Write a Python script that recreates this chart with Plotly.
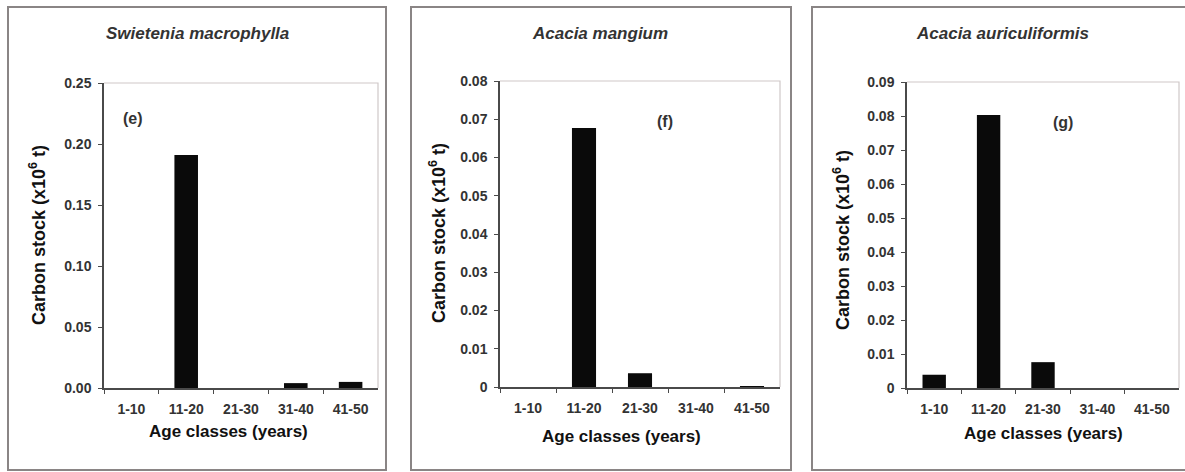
import plotly.graph_objects as go

categories = ["1-10", "11-20", "21-30", "31-40", "41-50"]
swietenia = [0.0, 0.191, 0.0, 0.004, 0.005]
mangium = [0.0, 0.0677, 0.0036, 0.0, 0.0002]
auriculiformis = [0.0039, 0.0803, 0.0076, 0.0, 0.0]

titles = ["Swietenia macrophylla", "Acacia mangium", "Acacia auriculiformis"]
panel_labels = ["(e)", "(f)", "(g)"]
y_ranges = [[0, 0.25], [0, 0.08], [0, 0.09]]
y_ticks = [
    [0.0, 0.05, 0.10, 0.15, 0.20, 0.25],
    [0, 0.01, 0.02, 0.03, 0.04, 0.05, 0.06, 0.07, 0.08],
    [0, 0.01, 0.02, 0.03, 0.04, 0.05, 0.06, 0.07, 0.08, 0.09],
]
y_ticktext = [
    ["0.00", "0.05", "0.10", "0.15", "0.20", "0.25"],
    ["0", "0.01", "0.02", "0.03", "0.04", "0.05", "0.06", "0.07", "0.08"],
    ["0", "0.01", "0.02", "0.03", "0.04", "0.05", "0.06", "0.07", "0.08", "0.09"],
]
series = [swietenia, mangium, auriculiformis]
x_title = "Age classes (years)"
y_title = "Carbon stock (x10<sup>6</sup> t)"

W, H = 1185, 472
# plot areas in pixels: (left, right, top, bottom)
areas = [(104, 378, 83, 388), (500, 780, 81, 387), (907, 1179, 82, 388)]
frames = [(8, 386, 7, 470), (411, 791, 7, 470), (812, 1192, 7, 470)]
label_pos = [(133, 118), (665, 122), (1063, 123)]
title_x = [197, 600, 1002]
xtitle_pos = [(228, 431), (621, 436), (1043, 433)]
ytitle_pos = [(37, 235), (437, 233), (841, 240)]

FONT = "Liberation Sans, Arial, sans-serif"

fig = go.Figure()
layout = dict(
    width=W, height=H, margin=dict(l=0, r=0, t=0, b=0, autoexpand=False),
    paper_bgcolor="white", plot_bgcolor="white", showlegend=False,
    font=dict(family=FONT, color="#222"),
    annotations=[],
)


def px(x):
    return x / W


def py(y):
    return (H - y) / H


border_path = []
frame_path = []
for i in range(3):
    xa = "x" if i == 0 else f"x{i+1}"
    ya = "y" if i == 0 else f"y{i+1}"
    fig.add_trace(go.Bar(
        x=categories, y=series[i], xaxis=xa, yaxis=ya,
        marker=dict(color="#0a0a0a", line=dict(width=0)), width=0.43,
    ))
    l, r, t, b = areas[i]
    xd = [px(l), px(r)]
    yd = [py(b), py(t)]
    kx = "xaxis" if i == 0 else f"xaxis{i+1}"
    ky = "yaxis" if i == 0 else f"yaxis{i+1}"
    layout[kx] = dict(
        domain=xd, anchor=ya, type="category", automargin=False,
        categoryorder="array", categoryarray=categories,
        showline=True, linecolor="#4a4a4a", linewidth=1.5, mirror=False,
        ticks="outside", tickson="boundaries", ticklen=4, tickcolor="#4a4a4a",
        ticklabelstandoff=7,
        tickfont=dict(family=FONT, size=14, color="#333", weight="bold"),
        showgrid=False, zeroline=False,
    )
    layout[ky] = dict(
        domain=yd, anchor=xa, range=y_ranges[i], automargin=False,
        tickvals=y_ticks[i], ticktext=y_ticktext[i],
        showline=True, linecolor="#4a4a4a", linewidth=1.5,
        ticks="outside", ticklen=4, tickcolor="#4a4a4a",
        ticklabelstandoff=4,
        tickfont=dict(family=FONT, size=14, color="#333", weight="bold"),
        showgrid=False, zeroline=False,
    )
    border_path.append(f"M {xd[0]} {yd[1]} L {xd[1]} {yd[1]} L {xd[1]} {yd[0]}")
    fl, fr, ft, fb = frames[i]
    frame_path.append(
        f"M {px(fl)} {py(ft)} L {px(fr)} {py(ft)} L {px(fr)} {py(fb)} "
        f"L {px(fl)} {py(fb)} Z")
    layout["annotations"].append(dict(
        text=titles[i], xref="paper", yref="paper",
        x=px(title_x[i]), y=py(33), showarrow=False,
        xanchor="center", yanchor="middle",
        font=dict(family=FONT, size=17, color="#333", weight="bold", style="italic")))
    lx, ly = label_pos[i]
    layout["annotations"].append(dict(
        text=panel_labels[i], xref="paper", yref="paper",
        x=px(lx), y=py(ly), showarrow=False,
        xanchor="center", yanchor="middle",
        font=dict(family=FONT, size=16, color="#333", weight="bold")))
    tx, ty = xtitle_pos[i]
    layout["annotations"].append(dict(
        text=x_title, xref="paper", yref="paper",
        x=px(tx), y=py(ty), showarrow=False,
        xanchor="center", yanchor="middle",
        font=dict(family=FONT, size=17, color="#111", weight="bold")))
    yx, yy = ytitle_pos[i]
    layout["annotations"].append(dict(
        text=y_title, xref="paper", yref="paper", textangle=-90,
        x=px(yx), y=py(yy), showarrow=False,
        xanchor="center", yanchor="middle",
        font=dict(family=FONT, size=18, color="#111", weight="bold")))

layout["shapes"] = [
    dict(type="path", xref="paper", yref="paper", path=" ".join(border_path),
         line=dict(color="#cfc8c8", width=1.2)),
    dict(type="path", xref="paper", yref="paper", path=" ".join(frame_path),
         line=dict(color="#8a8585", width=2), layer="below"),
]

fig.update_layout(**layout)
fig.write_html(
    "out.html",
    config={"displayModeBar": False},
    post_script="document.body.style.margin='0';document.body.style.overflow='hidden';",
)
